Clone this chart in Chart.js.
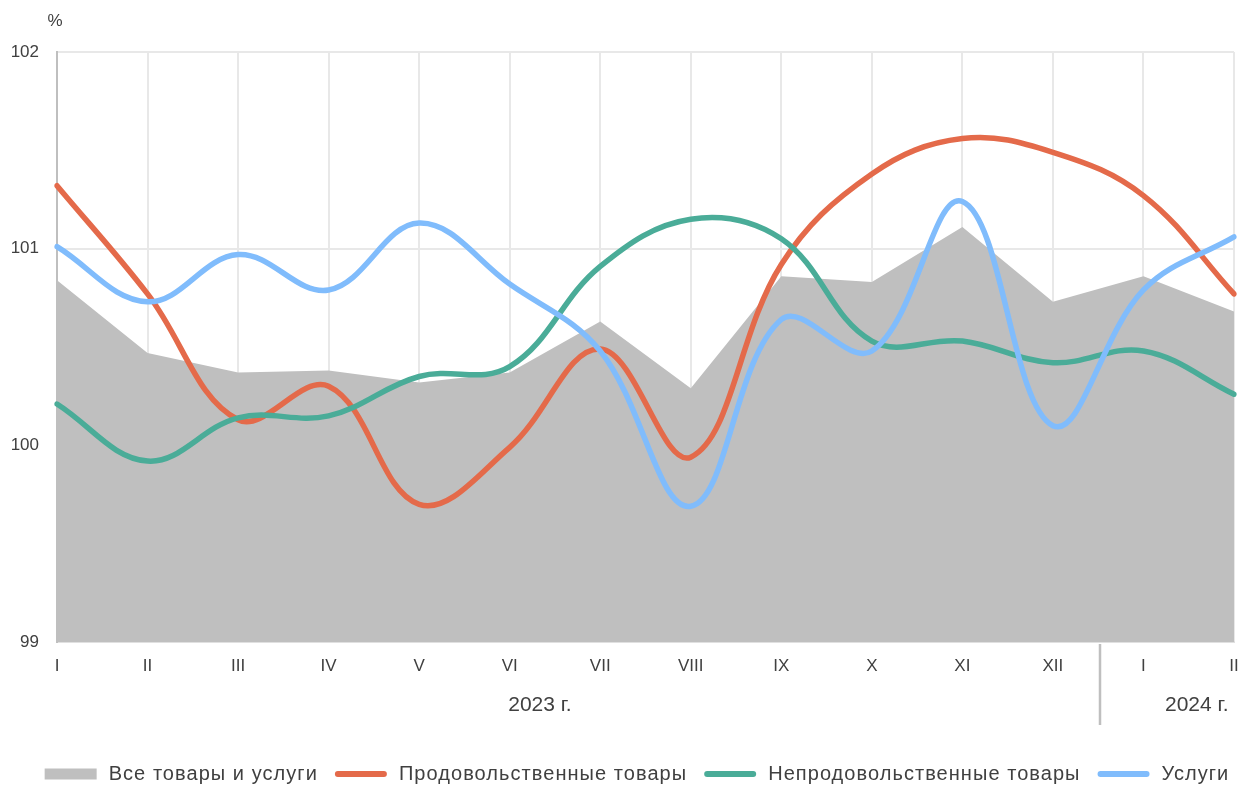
<!DOCTYPE html>
<html><head><meta charset="utf-8">
<script src="https://cdn.jsdelivr.net/npm/chart.js@4.4.1/dist/chart.umd.min.js"></script>
<style>html,body{margin:0;padding:0;background:#fff;overflow:hidden}canvas{display:block}</style>
</head><body><canvas id="c" width="1243" height="787" style="width:1243px;height:787px"></canvas>
<script>
const categories = ['I','II','III','IV','V','VI','VII','VIII','IX','X','XI','XII','I','II'];
const yearLabels = ['2023 г.', '2024 г.'];
const yearFrom = [0, 12];
const yearTo = [11, 13];
const seriesNames = ['Все товары и услуги','Продовольственные товары','Непродовольственные товары','Услуги'];
const allGoods = [100.84,100.47,100.37,100.38,100.32,100.37,100.63,100.29,100.86,100.83,101.11,100.73,100.86,100.68];
const food     = [101.32,100.77,100.13,100.30,99.70,99.99,100.49,99.94,100.92,101.38,101.56,101.49,101.27,100.77];
const nonFood  = [100.21,99.92,100.14,100.15,100.35,100.40,100.91,101.15,101.05,100.53,100.53,100.42,100.48,100.26];
const services = [101.01,100.73,100.97,100.79,101.13,100.82,100.48,99.69,100.64,100.48,101.24,100.10,100.79,101.06];
const yMin = 99, yMax = 102, yStep = 1;
const unitLabel = '%';

const FONT = '"Liberation Sans", Arial, sans-serif';
const TXT = '#404040';
const colors = ['#BFBFBF','#E46A4A','#4AAC98','#80BCFC'];

const extras = {
  id: 'extras',
  afterDraw(chart) {
    const ctx = chart.ctx, x = chart.scales.x, area = chart.chartArea;
    ctx.save();
    ctx.fillStyle = TXT;
    ctx.font = '17px ' + FONT;
    ctx.textAlign = 'center'; ctx.textBaseline = 'middle';
    ctx.fillText(unitLabel, area.left - 2, 21);
    ctx.font = '21px ' + FONT;
    const dx = [-15, 8];
    yearLabels.forEach((lab, i) => {
      const cx = (x.getPixelForValue(yearFrom[i]) + x.getPixelForValue(yearTo[i])) / 2 + dx[i];
      ctx.fillText(lab, cx, 705);
    });
    const sx = Math.round((x.getPixelForValue(yearTo[0]) + x.getPixelForValue(yearFrom[1])) / 2) + 2;
    ctx.strokeStyle = '#BFBFBF'; ctx.lineWidth = 2.5;
    ctx.beginPath(); ctx.moveTo(sx, area.bottom + 2); ctx.lineTo(sx, 725); ctx.stroke();
    ctx.font = '20px ' + FONT;
    try { ctx.letterSpacing = '1.05px'; } catch(e) {}
    const boxW = 52, gap = 12, itemGap = 17, ly = 774;
    const items = chart.data.datasets.map((ds, i) => ({text: ds.label, color: colors[i], box: i === 0}));
    let total = 0;
    items.forEach((it, i) => { it.w = boxW + gap + ctx.measureText(it.text).width; total += it.w + (i ? itemGap : 0); });
    let cx = 637 - total / 2;
    ctx.textAlign = 'left';
    items.forEach(it => {
      if (it.box) {
        ctx.fillStyle = it.color; ctx.fillRect(cx, ly - 5.5, boxW, 11);
      } else {
        ctx.strokeStyle = it.color; ctx.lineWidth = 6; ctx.lineCap = 'round';
        ctx.beginPath(); ctx.moveTo(cx + 3, ly); ctx.lineTo(cx + boxW - 3, ly); ctx.stroke();
      }
      ctx.fillStyle = TXT;
      ctx.fillText(it.text, cx + boxW + gap, ly);
      cx += it.w + itemGap;
    });
    ctx.restore();
  }
};

const lineDs = (i, data, order) => ({
  label: seriesNames[i], data, borderColor: colors[i], backgroundColor: colors[i],
  borderWidth: 5.5, pointRadius: 0, fill: false, tension: 0.38, order,
  borderCapStyle: 'round', borderJoinStyle: 'round'
});

new Chart(document.getElementById('c'), {
  type: 'line',
  data: {
    labels: categories,
    datasets: [
      {label: seriesNames[0], data: allGoods, borderWidth: 0, borderColor: 'rgba(0,0,0,0)',
       backgroundColor: colors[0], fill: 'start', pointRadius: 0, tension: 0, order: 10},
      lineDs(1, food, 3),
      lineDs(2, nonFood, 2),
      lineDs(3, services, 1)
    ]
  },
  options: {
    responsive: false, animation: false,
    layout: {padding: {top: 52, left: 0, right: 9, bottom: 0}},
    plugins: {legend: {display: false}, tooltip: {enabled: false}},
    scales: {
      x: {
        offset: false,
        grid: {color: '#E8E8E8', lineWidth: 2, drawTicks: false},
        border: {display: true, color: '#E0E0E0', width: 2},
        ticks: {color: TXT, font: {family: FONT, size: 17}, padding: 14, maxRotation: 0, autoSkip: false},
        afterFit: s => { s.height = 145; s.paddingLeft = 0; s.paddingRight = 0; }
      },
      y: {
        min: yMin, max: yMax,
        grid: {color: '#E8E8E8', lineWidth: 2, drawTicks: false},
        border: {display: true, color: '#BFBFBF', width: 2},
        ticks: {stepSize: yStep, color: TXT, font: {family: FONT, size: 17}, padding: 18},
        afterFit: s => { s.width = 57; }
      }
    }
  },
  plugins: [extras]
});
</script></body></html>
